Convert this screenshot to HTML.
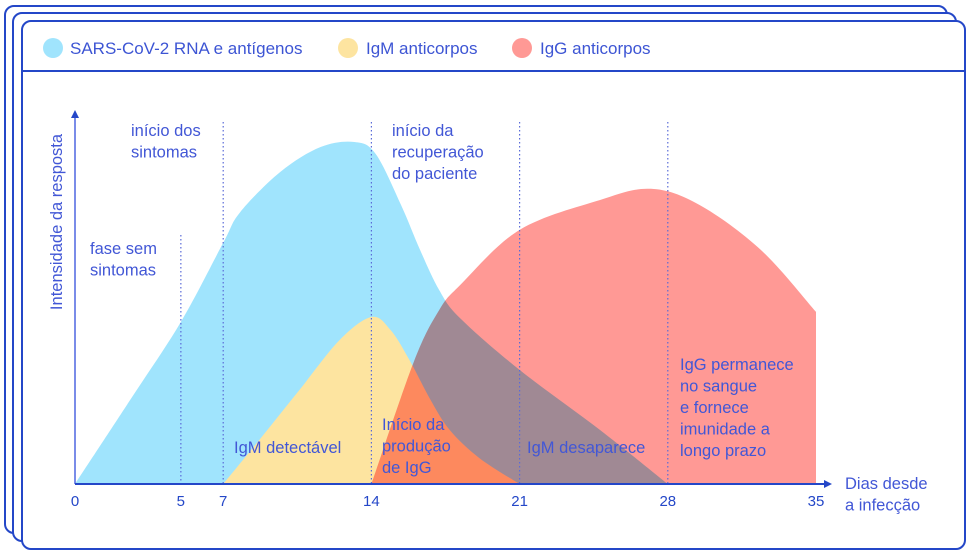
<!DOCTYPE html>
<html><head><meta charset="utf-8"><style>
html,body{margin:0;padding:0;background:#fff;}
svg{display:block;font-family:"Liberation Sans",sans-serif;}
</style></head><body>
<svg id="c" width="970" height="556" viewBox="0 0 970 556">
<rect x="5" y="6" width="942" height="527" rx="9" fill="#fff" stroke="#2447c8" stroke-width="2"/>
<rect x="13" y="13" width="943" height="528" rx="9" fill="#fff" stroke="#2447c8" stroke-width="2"/>
<rect x="22" y="21" width="943" height="528" rx="9" fill="#fff" stroke="#2447c8" stroke-width="2"/>
<line x1="22" y1="71" x2="965" y2="71" stroke="#2447c8" stroke-width="2"/>
<g font-size="17" fill="#3d55d4">
 <g><circle cx="53" cy="48" r="10" fill="#a0e4fd"/><text x="70" y="54">SARS-CoV-2 RNA e antígenos</text></g>
 <g><circle cx="348" cy="48" r="10" fill="#fde4a0"/><text x="366" y="54">IgM anticorpos</text></g>
 <g><circle cx="522" cy="48" r="10" fill="#ff9995"/><text x="540" y="54">IgG anticorpos</text></g>
</g>
<g id="plot"></g>
</svg>
<script>
const blueDays=[0,2.6,5,7,7.8,9.7,11.6,13.2,14.2,15.4,16.3,17.2,18.2,21,24.8,28];
const blueVals=[0,23.3,45,67,75.5,86.7,93.6,95,91.7,77.5,65,53.9,46,31.7,15,0];
const igmDays=[7,8.7,10.6,12.5,14,14.9,15.8,16.8,17.7,19.1,21];
const igmVals=[0,12.2,26.1,40,46.4,42.8,34.4,23.3,15,7.2,0];
const iggDays=[14,16,17.2,18.2,21,24.8,27.2,29.5,32.4,35];
const iggVals=[0,33.9,48.3,55.3,70.6,78.9,82,77.5,65,47.8];
const tickDays=[0,5,7,14,21,28,35];
const tickLabels=["0","5","7","14","21","28","35"];
const markerDays=[5,7,14,21,28];

const NS="http://www.w3.org/2000/svg";
const X=d=>75+d*(816-75)/35;
const Y=v=>484-v*3.6;
const g=document.getElementById('plot');
function mk(t,a,p){const e=document.createElementNS(NS,t);for(const k in a)e.setAttribute(k,a[k]);(p||g).appendChild(e);return e;}
function smooth(pts){let d=`M${pts[0][0]},${pts[0][1]}`;for(let i=0;i<pts.length-1;i++){const p0=pts[i-1]||pts[i],p1=pts[i],p2=pts[i+1],p3=pts[i+2]||p2;d+=` C${p1[0]+(p2[0]-p0[0])/6},${p1[1]+(p2[1]-p0[1])/6} ${p2[0]-(p3[0]-p1[0])/6},${p2[1]-(p3[1]-p1[1])/6} ${p2[0]},${p2[1]}`;}return d;}
function area(days,vals){const pts=days.map((d,i)=>[X(d),Y(vals[i])]);return smooth(pts)+` L${X(days[days.length-1])},${Y(0)} L${X(days[0])},${Y(0)} Z`;}
let e;
e=mk('path',{d:area(blueDays,blueVals),fill:'#a0e4fd'});


e=mk('path',{d:area(igmDays,igmVals),fill:'#fde4a0'});


e=mk('path',{d:area(iggDays,iggVals),fill:'#ff9995',style:'mix-blend-mode:multiply'});


markerDays.forEach(d=>{
 const l=mk('line',{x1:X(d),x2:X(d),y1:d===5?235:122,y2:484,stroke:'#5a6bd8','stroke-width':1.2,'stroke-dasharray':'1.5 2.5'});
 
 
});
e=mk('line',{x1:75,y1:484,x2:75,y2:116,stroke:'#7a8ce8','stroke-width':2});


e=mk('path',{d:'M71,118 L75,110 L79,118 Z',fill:'#2447c8'});


e=mk('line',{x1:75,y1:484,x2:826,y2:484,stroke:'#2447c8','stroke-width':2});


e=mk('path',{d:'M824,480 L832,484 L824,488 Z',fill:'#2447c8'});


tickDays.forEach((d,i)=>{
 const t=mk('text',{x:X(d),y:506,'text-anchor':'middle','font-size':15,fill:'#2447c8'});
 t.textContent=tickLabels[i];
 
 
});
function label(lines,x,y,name,anchor){
 const t=mk('text',{x:x,y:y,'font-size':16.5,fill:'#4257d6','text-anchor':anchor||'start'});
 lines.forEach((s,i)=>{const ts=mk('tspan',{x:x,dy:i?21.5:0},t);ts.textContent=s;});
 
 
}
label(['Dias desde','a infecção'],845,489,'x-axis-title');
label(['início dos','sintomas'],131,136,'label-inicio-sintomas');
label(['fase sem','sintomas'],90,254,'label-fase-sem-sintomas');
label(['início da','recuperação','do paciente'],392,136,'label-recuperacao');
label(['IgM detectável'],234,453,'label-igm-detectavel');
label(['Início da','produção','de IgG'],382,430,'label-inicio-igg');
label(['IgM desaparece'],527,453,'label-igm-desaparece');
label(['IgG permanece','no sangue','e fornece','imunidade a','longo prazo'],680,370,'label-igg-permanece');
e=mk('text',{x:0,y:0,'font-size':16.5,fill:'#4257d6','text-anchor':'middle',transform:'translate(62,222) rotate(-90)'});
e.textContent='Intensidade da resposta';


</script>
</body></html>
